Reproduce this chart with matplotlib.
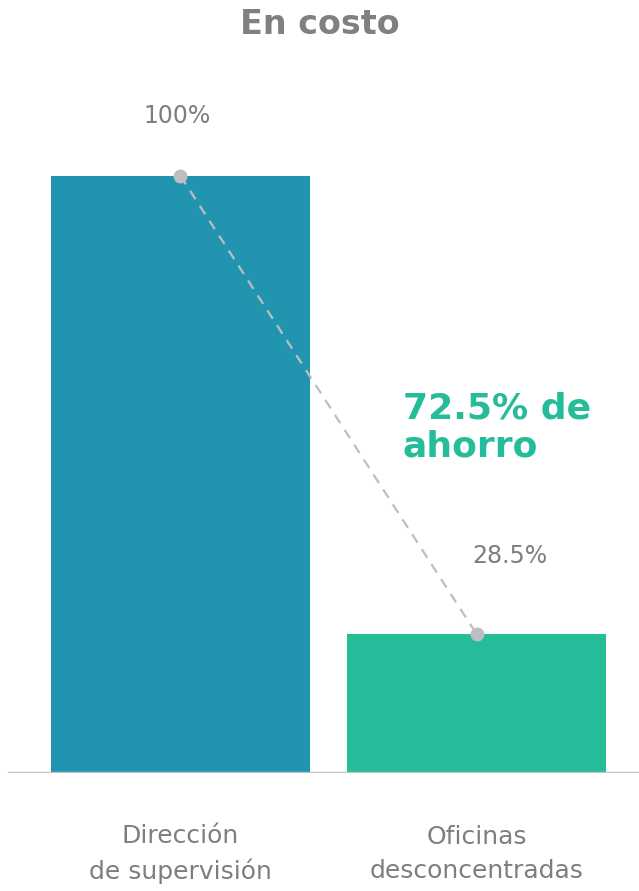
#!/usr/bin/env python3
"""Cost comparison: direccion de supervision vs oficinas desconcentradas."""
import matplotlib

matplotlib.use("Agg")
import matplotlib.pyplot as plt

CATEGORIES = ["Dirección\nde supervisión", "Oficinas\ndesconcentradas"]
BAR_HEIGHTS = [100.0, 23.3]  # heights as drawn in the picture
VALUE_LABELS = ["100%", "28.5%"]
SAVING_LABEL = "72.5% de\nahorro"
TITLE = "En costo"

BAR_COLORS = ["#2195AF", "#25BC9A"]
GRAY_TEXT = "#7E7E82"
DOT_GRAY = "#BEBEC2"

W, H = 639, 891
fig = plt.figure(figsize=(W / 100, H / 100), dpi=100)

# axes: baseline at pixel row 773, 100% at row 176
base_px, top_px = 773, 60
px_per_unit = (773 - 176) / 100.0
ax = fig.add_axes([0, (H - base_px) / H, 1, (base_px - top_px) / H])
step = 296.0
ax.set_xlim(-180.5 / step, (W - 180.5) / step)
ax.set_ylim(0, (base_px - top_px) / px_per_unit)
ax.axis("off")

x = list(range(len(CATEGORIES)))
ax.bar(x, BAR_HEIGHTS, width=259 / step, color=BAR_COLORS, zorder=2)
ax.axhline(0, xmin=9 / W, xmax=1, color="#C2C2C4", linewidth=2.4, zorder=3)

ax.plot(x, BAR_HEIGHTS, linestyle=(0, (4.5, 3.5)), color=DOT_GRAY, linewidth=1.6,
        zorder=4, clip_on=False)
ax.plot(x, BAR_HEIGHTS, linestyle="none", marker="o", markersize=9,
        color=DOT_GRAY, zorder=5, clip_on=False)

ax.text(x[0] - 0.01, BAR_HEIGHTS[0] + 10, VALUE_LABELS[0], ha="center", va="center",
        fontsize=17, color=GRAY_TEXT)
ax.text(x[1] + 0.113, BAR_HEIGHTS[1] + 13, VALUE_LABELS[1], ha="center", va="center",
        fontsize=17, color=GRAY_TEXT)

ax.text((403 - 180.5) / step, (base_px - 392) / px_per_unit, SAVING_LABEL,
        ha="left", va="top", fontsize=26, fontweight="bold", color="#25BC9A",
        linespacing=1.12)

for xi, cat in zip(x, CATEGORIES):
    ax.text(xi, (base_px - 854) / px_per_unit, cat, ha="center", va="center",
            fontsize=18, color=GRAY_TEXT, linespacing=1.5, clip_on=False)

fig.text(0.5, 1 - 24 / H, TITLE, ha="center", va="center", fontsize=24,
         fontweight="bold", color="#808083")

fig.savefig("out.png", dpi=100)
